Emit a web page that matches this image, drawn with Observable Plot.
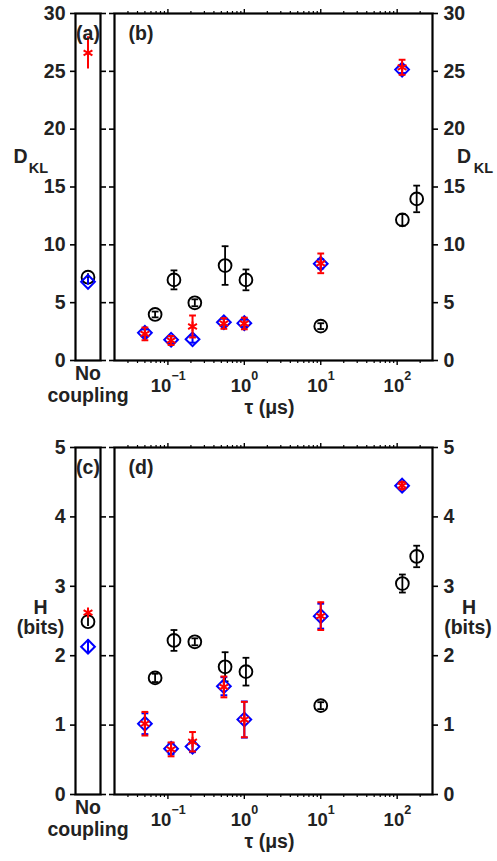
<!DOCTYPE html>
<html>
<head>
<meta charset="utf-8">
<script src="https://cdn.jsdelivr.net/npm/d3@7"></script>
<script src="https://cdn.jsdelivr.net/npm/@observablehq/plot@0.6"></script>
<style>
  body { margin: 0; background: #fff; }
  #fig { position: relative; width: 497px; height: 861px; overflow: hidden; background: #fff; }
  #fig svg { position: absolute; left: 0; }
</style>
</head>
<body>
<div id="fig"></div>
<script>
// ---- delay times τ (µs) ----
const tauPaired = [0.05, 0.11, 0.21, 0.54, 1.0, 10, 116];          // red * and blue ◇ series
const tauBlack  = [0.068, 0.12, 0.225, 0.56, 1.05, 10, 117, 180];  // black ○ series

// ---- D_KL, coupled runs ----
const dklBlack    = [3.98, 6.97, 4.99, 8.21, 6.97, 2.97, 12.16, 13.97];
const dklBlackErr = [0.25, 0.82, 0.3, 1.67, 0.9, 0.25, 0.5, 1.15];
const dklRed      = [2.3, 1.73, 2.94, 3.2, 3.2, 8.4, 25.35];
const dklRedErr   = [0.55, 0.39, 0.95, 0.46, 0.5, 0.85, 0.65];
const dklBlue     = [2.39, 1.79, 1.84, 3.31, 3.23, 8.36, 25.15];
const dklBlueErr  = [0.3, 0.3, 0.3, 0.3, 0.3, 0.4, 0.3];

// ---- D_KL, no coupling: [black, red, blue] ----
const dklNoCoupling    = [7.2, 26.6, 6.8];
const dklNoCouplingErr = [0.3, 1.4, 0.3];

// ---- H (bits), coupled runs ----
const hBlack    = [1.68, 2.22, 2.20, 1.84, 1.77, 1.28, 3.04, 3.43];
const hBlackErr = [0.06, 0.15, 0.05, 0.21, 0.2, 0.05, 0.13, 0.155];
const hRed      = [1.02, 0.65, 0.76, 1.55, 1.08, 2.57, 4.45];
const hRedErr   = [0.17, 0.1, 0.14, 0.15, 0.255, 0.2, 0.05];
const hBlue     = [1.02, 0.66, 0.69, 1.56, 1.08, 2.57, 4.45];
const hBlueErr  = [0.15, 0.08, 0.08, 0.13, 0.26, 0.18, 0.05];

// ---- H, no coupling: [black, red, blue] ----
const hNoCoupling    = [2.49, 2.62, 2.13];
const hNoCouplingErr = [0.07, 0.0, 0.1];

// ---- axis ticks ----
const dklTicks = [0, 5, 10, 15, 20, 25, 30];
const hTicks = [0, 1, 2, 3, 4, 5];
const tauMajor = [0.1, 1, 10, 100];
const tauMinor = [0.03, 0.04, 0.05, 0.06, 0.07, 0.08, 0.09,
                  0.2, 0.3, 0.4, 0.5, 0.6, 0.7, 0.8, 0.9,
                  2, 3, 4, 5, 6, 7, 8, 9,
                  20, 30, 40, 50, 60, 70, 80, 90, 200];

const FONT = "Liberation Sans, Arial, Helvetica, sans-serif";
const TXT = "#222";
const FS = 19.5;
const COLORS = {black: "#000000", red: "#ff0000", blue: "#0000ff"};

// horizontal cap for error bars; r gives the half width
const capSymbol = {
  draw(ctx, size) {
    const h = Math.sqrt(size / Math.PI);
    ctx.moveTo(-h, 0);
    ctx.lineTo(h, 0);
  }
};

const rowsOf = (xs, vs, es) => vs.map((v, i) => ({x: xs[i], y: v, lo: v - es[i], hi: v + es[i]}));

function seriesMarks(rows, kind, caps = true) {
  const c = COLORS[kind];
  const marker = {
    black: {symbol: "circle", r: 6.4, strokeWidth: 1.9},
    blue: {symbol: "diamond2", r: 6.2, strokeWidth: 2},
    red: {symbol: "asterisk", r: 4.8, strokeWidth: 2}
  }[kind];
  const bw = kind === "black" ? 1.8 : 2;
  const bars = rows.filter(d => d.hi > d.lo);
  const out = [Plot.ruleX(bars, {x: "x", y1: "lo", y2: "hi", stroke: c, strokeWidth: bw})];
  if (caps) out.push(
    Plot.dot(bars, {x: "x", y: "lo", symbol: capSymbol, r: 3.4, stroke: c, fill: "none", strokeWidth: bw}),
    Plot.dot(bars, {x: "x", y: "hi", symbol: capSymbol, r: 3.4, stroke: c, fill: "none", strokeWidth: bw})
  );
  out.push(Plot.dot(rows, {x: "x", y: "y", symbol: marker.symbol, r: marker.r, stroke: c, fill: "none", strokeWidth: marker.strokeWidth}));
  return out;
}

const txt = (opts) => ({fontFamily: FONT, fontWeight: "bold", fill: TXT, fontSize: FS, ...opts});

const baseStyle = {background: "transparent", fontFamily: FONT, color: "black", overflow: "visible"};

// narrow "No coupling" panel
function narrowPanel({top, height, mt, mb, yDomain, yTicks, vals, errs, tag, titleMarks}) {
  const x0 = 0.5;
  const idx = {black: 0, red: 1, blue: 2};
  const marks = [];
  for (const k of ["black", "blue", "red"]) {
    marks.push(...seriesMarks(rowsOf([x0], [vals[idx[k]]], [errs[idx[k]]]), k, false));
  }
  const p = Plot.plot({
    width: 497, height,
    marginLeft: 75, marginRight: 397, marginTop: mt, marginBottom: mb,
    style: baseStyle,
    x: {domain: [0, 1]},
    y: {domain: yDomain},
    marks: [
      Plot.axisY({anchor: "left", ticks: yTicks, tickSize: 5, tickPadding: 5, strokeWidth: 1.6,
        label: null, fontSize: FS, fontWeight: "bold", fill: TXT, tickFormat: d => String(d)}),
      Plot.axisY({anchor: "right", ticks: yTicks, tickSize: 5, strokeWidth: 1.6, label: null, tickFormat: () => ""}),
      Plot.axisX({ticks: [], label: null}),
      Plot.frame({stroke: "black", strokeWidth: 2.2}),
      ...marks,
      Plot.text([tag], txt({frameAnchor: "top", text: d => d, dy: 12.5, textAnchor: "middle"})),
      Plot.text(["No"], txt({frameAnchor: "bottom", text: d => d, dy: 19.5, textAnchor: "middle"})),
      Plot.text(["coupling"], txt({frameAnchor: "bottom", text: d => d, dy: 41, textAnchor: "middle"})),
      ...titleMarks("left")
    ]
  });
  p.style.top = top + "px";
  return p;
}

// wide panel against τ on a log axis
function widePanel({top, height, mt, mb, yDomain, yTicks, black, red, blue, tag, titleMarks}) {
  const labelMarks = [];
  for (const t of tauMajor) {
    const e = Math.round(Math.log10(t));
    const exp = e < 0 ? "\u2212" + (-e) : String(e);
    const ew = e < 0 ? 14 : 7;
    labelMarks.push(
      Plot.text([t], txt({x: d => d, frameAnchor: "bottom", text: () => "10", textAnchor: "end", dx: (21 - ew) / 2, dy: 31.5, fontSize: 18.5})),
      Plot.text([t], txt({x: d => d, frameAnchor: "bottom", text: () => exp, textAnchor: "start", dx: (21 - ew) / 2, dy: 19.2, fontSize: 12.5}))
    );
  }
  const p = Plot.plot({
    width: 497, height,
    marginLeft: 114, marginRight: 65, marginTop: mt, marginBottom: mb,
    style: baseStyle,
    x: {type: "log", domain: [0.02, 290]},
    y: {domain: yDomain},
    marks: [
      Plot.axisY({anchor: "right", ticks: yTicks, tickSize: 5, tickPadding: 6, strokeWidth: 1.6,
        label: null, fontSize: FS, fontWeight: "bold", fill: TXT, tickFormat: d => String(d)}),
      Plot.axisY({anchor: "left", ticks: yTicks, tickSize: 5, strokeWidth: 1.6, label: null, tickFormat: () => ""}),
      Plot.axisX({anchor: "bottom", ticks: tauMajor, tickSize: 5, strokeWidth: 1.4, label: null, tickFormat: () => ""}),
      Plot.axisX({anchor: "bottom", ticks: tauMinor, tickSize: 3, strokeWidth: 1.2, label: null, tickFormat: () => ""}),
      Plot.axisX({anchor: "top", ticks: tauMajor, tickSize: 5, strokeWidth: 1.4, label: null, tickFormat: () => ""}),
      Plot.axisX({anchor: "top", ticks: tauMinor, tickSize: 3, strokeWidth: 1.2, label: null, tickFormat: () => ""}),
      Plot.frame({stroke: "black", strokeWidth: 2.2}),
      ...seriesMarks(black, "black"),
      ...seriesMarks(blue, "blue"),
      ...seriesMarks(red, "red"),
      ...labelMarks,
      Plot.text([tag], txt({frameAnchor: "top-left", text: d => d, dx: 14, dy: 12.5, textAnchor: "start"})),
      Plot.text(["\u03c4 (\u03bcs)"], txt({frameAnchor: "bottom", text: d => d, dx: -4, dy: 53, textAnchor: "middle"})),
      ...titleMarks("right")
    ]
  });
  p.style.top = top + "px";
  return p;
}

// y titles: D with subscript KL
const dklTitle = (side) => {
  const anchor = side === "left" ? "left" : "right";
  const dD = side === "left" ? -55 : 31.5;
  const dK = side === "left" ? -37 : 51;
  return [
    Plot.text(["D"], txt({frameAnchor: anchor, text: d => d, dx: dD, dy: -30.3, textAnchor: "middle"})),
    Plot.text(["KL"], txt({frameAnchor: anchor, text: d => d, dx: dK, dy: -18.7, textAnchor: "middle", fontSize: 14.5}))
  ];
};
const hTitle = (side) => {
  const anchor = side === "left" ? "left" : "right";
  const dH = side === "left" ? -35 : 36.5;
  const dB = side === "left" ? -35 : 35.5;
  return [
    Plot.text(["H"], txt({frameAnchor: anchor, text: d => d, dx: dH, dy: -13.3, textAnchor: "middle"})),
    Plot.text(["(bits)"], txt({frameAnchor: anchor, text: d => d, dx: dB, dy: 6.7, textAnchor: "middle"}))
  ];
};

const fig = document.getElementById("fig");
const topRow = {top: 0, height: 430, mt: 13, mb: 70};
const botRow = {top: 430, height: 431, mt: 17, mb: 67};

fig.append(narrowPanel({...topRow, yDomain: [0, 30], yTicks: dklTicks,
  vals: dklNoCoupling, errs: dklNoCouplingErr, tag: "(a)", titleMarks: dklTitle}));
fig.append(widePanel({...topRow, yDomain: [0, 30], yTicks: dklTicks,
  black: rowsOf(tauBlack, dklBlack, dklBlackErr),
  red: rowsOf(tauPaired, dklRed, dklRedErr),
  blue: rowsOf(tauPaired, dklBlue, dklBlueErr),
  tag: "(b)", titleMarks: dklTitle}));
fig.append(narrowPanel({...botRow, yDomain: [0, 5], yTicks: hTicks,
  vals: hNoCoupling, errs: hNoCouplingErr, tag: "(c)", titleMarks: hTitle}));
fig.append(widePanel({...botRow, yDomain: [0, 5], yTicks: hTicks,
  black: rowsOf(tauBlack, hBlack, hBlackErr),
  red: rowsOf(tauPaired, hRed, hRedErr),
  blue: rowsOf(tauPaired, hBlue, hBlueErr),
  tag: "(d)", titleMarks: hTitle}));
</script>
</body>
</html>
